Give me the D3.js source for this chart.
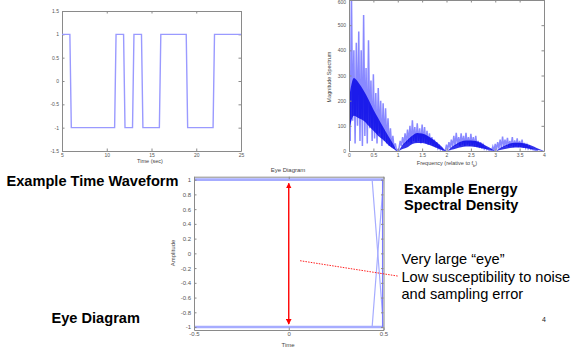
<!DOCTYPE html>
<html>
<head>
<meta charset="utf-8">
<script src="https://cdn.jsdelivr.net/npm/d3@7"></script>
<style>
  body { margin: 0; background: #fff; }
  svg text { font-family: "Liberation Sans", Arial, sans-serif; }
</style>
</head>
<body>
<div id="chart"></div>
<script>
// time waveform (bipolar NRZ)
const waveTime = [5, 5.88, 6.04, 10.88, 11.04, 11.88, 12.04, 12.88, 13.04, 13.88, 14.04, 15.88, 16.04, 18.88, 19.04, 21.88, 22.04, 25];
const waveLevel = [1, 1, -1, -1, 1, 1, -1, -1, 1, 1, -1, -1, 1, 1, -1, -1, 1, 1];
const waveXTicks = [5, 10, 15, 20, 25];
const waveYTicks = [-1.5, -1, -0.5, 0, 0.5, 1, 1.5];

// energy spectral density: spike tops every 0.05, spike bottoms halfway between
const specStep = 0.05;
const specPeaks = [
  270, 640, 400, 430, 475, 400, 540, 330, 440, 280, 305, 230, 250, 200, 190, 170, 130, 90, 60, 30, 5,
  40, 55, 70, 85, 100, 122, 95, 110, 90, 105, 95, 80, 70, 55, 45, 35, 20, 10, 2,
  25, 35, 45, 60, 72, 55, 70, 60, 72, 55, 68, 55, 60, 40, 35, 25, 15, 8, 2,
  18, 28, 35, 45, 57, 45, 52, 40, 55, 42, 50, 40, 45, 32, 25, 18, 10, 5, 1
];
const specTroughs = [
  40, 120, 30, 100, 40, 20, 60, 30, 90, 40, 50, 30, 70, 20, 40, 30, 20, 15, 10, 3,
  10, 20, 25, 30, 35, 30, 40, 35, 40, 30, 35, 30, 25, 25, 20, 15, 10, 5, 2, 1,
  5, 12, 15, 20, 25, 20, 25, 20, 25, 20, 22, 18, 15, 12, 10, 8, 5, 3, 1, 1,
  5, 10, 12, 16, 20, 16, 20, 15, 18, 15, 16, 13, 12, 9, 7, 5, 3, 2, 1
];
const coreStep = 0.1;
const coreHigh = [
  210, 290, 270, 240, 205, 165, 130, 95, 62, 30, 0,
  25, 45, 62, 72, 70, 62, 50, 35, 18, 0,
  15, 28, 38, 42, 42, 40, 33, 22, 12, 0,
  12, 22, 30, 33, 33, 30, 25, 17, 8, 0
];
const coreLow = [
  80, 140, 130, 120, 100, 80, 60, 45, 25, 10, 0,
  8, 15, 28, 32, 32, 27, 20, 12, 5, 0,
  5, 10, 15, 18, 18, 16, 12, 8, 4, 0,
  4, 8, 12, 14, 14, 12, 9, 6, 3, 0
];
const specXTicks = [0, 0.5, 1, 1.5, 2, 2.5, 3, 3.5, 4];
const specYTicks = [0, 100, 200, 300, 400, 500, 600];

// eye diagram
const eyeTraces = [
  [[-0.5, 1], [0.44, 1], [0.5, -1]],
  [[-0.5, -1], [0.44, -1], [0.5, 1]],
  [[-0.5, 1], [0.5, 1]],
  [[-0.5, -1], [0.5, -1]],
  [[0.495, -1], [0.495, 1]]
];
const eyeXTicks = [-0.5, 0, 0.5];
const eyeYTicks = [-1, -0.8, -0.6, -0.4, -0.2, 0, 0.2, 0.4, 0.6, 0.8, 1];
const eyeArrow = [[0, 0.95], [0, -0.96]];
const eyePointer = [[0.06, -0.1], [0.58, -0.31]];

const W = 571, H = 347;
const svg = d3.select('#chart').append('svg')
  .attr('width', W).attr('height', H)
  .style('display', 'block');
svg.append('rect').attr('width', W).attr('height', H).attr('fill', '#fff');

const defs = svg.append('defs');
defs.append('marker')
  .attr('id', 'arrowhead')
  .attr('viewBox', '0 0 10 10')
  .attr('refX', 9).attr('refY', 5)
  .attr('markerWidth', 4).attr('markerHeight', 4)
  .attr('orient', 'auto-start-reverse')
  .append('path').attr('d', 'M0,0L10,5L0,10Z').attr('fill', '#ff0000');

// matlab style box with inward ticks on all sides
function boxAxes(g, x, y, xTicks, yTicks, fontSize, fmt) {
  const [x0, x1] = x.range();
  const [y0, y1] = y.range();
  const tick = 2.5;
  const style = sel => {
    sel.select('.domain').attr('stroke', '#8a8a8a');
    sel.selectAll('.tick line').attr('stroke', '#8a8a8a');
    sel.selectAll('.tick text').attr('fill', '#555').attr('font-size', fontSize)
      .style('font-family', '"Liberation Sans", Arial, sans-serif');
  };
  g.append('g').attr('transform', `translate(0,${y0})`)
    .call(d3.axisBottom(x).tickValues(xTicks).tickSizeInner(-tick).tickSizeOuter(0).tickPadding(2).tickFormat(fmt))
    .call(style);
  g.append('g').attr('transform', `translate(0,${y1})`)
    .call(d3.axisTop(x).tickValues(xTicks).tickSizeInner(-tick).tickSizeOuter(0).tickFormat(''))
    .call(style);
  g.append('g').attr('transform', `translate(${x0},0)`)
    .call(d3.axisLeft(y).tickValues(yTicks).tickSizeInner(-tick).tickSizeOuter(0).tickPadding(3).tickFormat(fmt))
    .call(style)
    .call(a => a.selectAll('.tick text').filter(d => y(d) < 3).attr('dy', '0.75em'));
  g.append('g').attr('transform', `translate(${x1},0)`)
    .call(d3.axisRight(y).tickValues(yTicks).tickSizeInner(-tick).tickSizeOuter(0).tickFormat(''))
    .call(style);
}

function clipTo(id, x, y) {
  defs.append('clipPath').attr('id', id).append('rect')
    .attr('x', x.range()[0]).attr('y', y.range()[1])
    .attr('width', x.range()[1] - x.range()[0])
    .attr('height', y.range()[0] - y.range()[1]);
}

const fmt = d => String(d);

// --- time waveform
const wx = d3.scaleLinear().domain([5, 25]).range([62, 241]);
const wy = d3.scaleLinear().domain([-1.5, 1.5]).range([151, 11]);
const gw = svg.append('g');
boxAxes(gw, wx, wy, waveXTicks, waveYTicks, '5px', fmt);
gw.append('path')
  .datum(waveTime.map((t, i) => [t, waveLevel[i]]))
  .attr('fill', 'none')
  .attr('stroke', '#9a9aff')
  .attr('stroke-width', 1.4)
  .attr('d', d3.line().x(d => wx(d[0])).y(d => wy(d[1])));
gw.append('text').attr('x', 150).attr('y', 163).attr('text-anchor', 'middle')
  .attr('font-size', '5.5px').attr('fill', '#444').text('Time (sec)');

// --- energy spectral density
const sx = d3.scaleLinear().domain([0, 4]).range([349, 544]);
const sy = d3.scaleLinear().domain([0, 600]).range([151, 0]);
clipTo('specClip', sx, sy);
const gs = svg.append('g');
const spikes = [];
specPeaks.forEach((v, i) => {
  spikes.push([i * specStep, v]);
  if (i < specTroughs.length) spikes.push([i * specStep + specStep / 2, specTroughs[i]]);
});
const plot = gs.append('g').attr('clip-path', 'url(#specClip)');
plot.append('path')
  .datum(spikes)
  .attr('fill', 'none')
  .attr('stroke', '#3a3aff')
  .attr('stroke-opacity', 0.6)
  .attr('stroke-width', 1.5)
  .attr('d', d3.line().x(d => sx(d[0])).y(d => sy(d[1])));
plot.append('path')
  .datum(coreHigh.map((v, i) => [i * coreStep, coreLow[i], v]))
  .attr('fill', '#0000e6')
  .attr('fill-opacity', 0.8)
  .attr('d', d3.area().curve(d3.curveMonotoneX).x(d => sx(d[0])).y0(d => sy(d[1])).y1(d => sy(d[2])));
boxAxes(gs, sx, sy, specXTicks, specYTicks, '5px', fmt);
gs.append('text').attr('transform', 'translate(331,77) rotate(-90)').attr('text-anchor', 'middle')
  .attr('font-size', '5.5px').attr('fill', '#444').text('Magnitude Spectrum');
const fl = gs.append('text').attr('x', 447).attr('y', 165).attr('text-anchor', 'middle')
  .attr('font-size', '5.5px').attr('fill', '#444');
fl.append('tspan').text('Frequency (relative to f');
fl.append('tspan').attr('font-size', '4px').attr('dy', 1.5).text('b');
fl.append('tspan').attr('dy', -1.5).text(')');

// --- eye diagram
const ex = d3.scaleLinear().domain([-0.5, 0.5]).range([194, 383.5]);
const ey = d3.scaleLinear().domain([-1.04, 1.04]).range([330, 176.7]);
clipTo('eyeClip', ex, ey);
const ge = svg.append('g');
const eyeLine = d3.line().x(d => ex(d[0])).y(d => ey(d[1]));
ge.append('g').attr('clip-path', 'url(#eyeClip)')
  .selectAll('path')
  .data(eyeTraces)
  .join('path')
  .attr('fill', 'none')
  .attr('stroke', (d, i) => i === 4 ? '#7a7aff' : '#a6acff')
  .attr('stroke-width', (d, i) => i === 2 || i === 3 ? 2.6 : 1.2)
  .attr('d', eyeLine);
boxAxes(ge, ex, ey, eyeXTicks, eyeYTicks, '6px', fmt);
ge.append('path')
  .datum(eyeArrow)
  .attr('stroke', '#ff0000')
  .attr('stroke-width', 1.4)
  .attr('marker-start', 'url(#arrowhead)')
  .attr('marker-end', 'url(#arrowhead)')
  .attr('d', eyeLine);
ge.append('path')
  .datum(eyePointer)
  .attr('stroke', '#ff2020')
  .attr('stroke-width', 1)
  .attr('stroke-dasharray', '1.5,1.2')
  .attr('d', eyeLine);
ge.append('text').attr('x', 288).attr('y', 171.5).attr('text-anchor', 'middle')
  .attr('font-size', '6px').attr('fill', '#444').text('Eye Diagram');
ge.append('text').attr('transform', 'translate(175,253) rotate(-90)').attr('text-anchor', 'middle')
  .attr('font-size', '6px').attr('fill', '#444').text('Amplitude');
ge.append('text').attr('x', 288).attr('y', 347).attr('text-anchor', 'middle')
  .attr('font-size', '6px').attr('fill', '#444').text('Time');

// --- slide captions
const captions = [
  {text: 'Example Time Waveform', x: 6.5, y: 186, bold: true},
  {text: 'Example Energy', x: 404, y: 193.5, bold: true},
  {text: 'Spectral Density', x: 404, y: 209.5, bold: true},
  {text: 'Eye Diagram', x: 51.5, y: 322.5, bold: true},
  {text: 'Very large \u201ceye\u201d', x: 401.5, y: 264, bold: false},
  {text: 'Low susceptibility to noise', x: 401.5, y: 281.5, bold: false},
  {text: 'and sampling error', x: 401.5, y: 299, bold: false}
];
svg.append('g').selectAll('text')
  .data(captions)
  .join('text')
  .attr('x', d => d.x)
  .attr('y', d => d.y)
  .attr('font-size', '14.6px')
  .attr('font-weight', d => d.bold ? 'bold' : 'normal')
  .attr('fill', '#000')
  .text(d => d.text);
svg.append('text').attr('x', 542).attr('y', 322).attr('font-size', '7px').attr('fill', '#222').text('4');
</script>
</body>
</html>
